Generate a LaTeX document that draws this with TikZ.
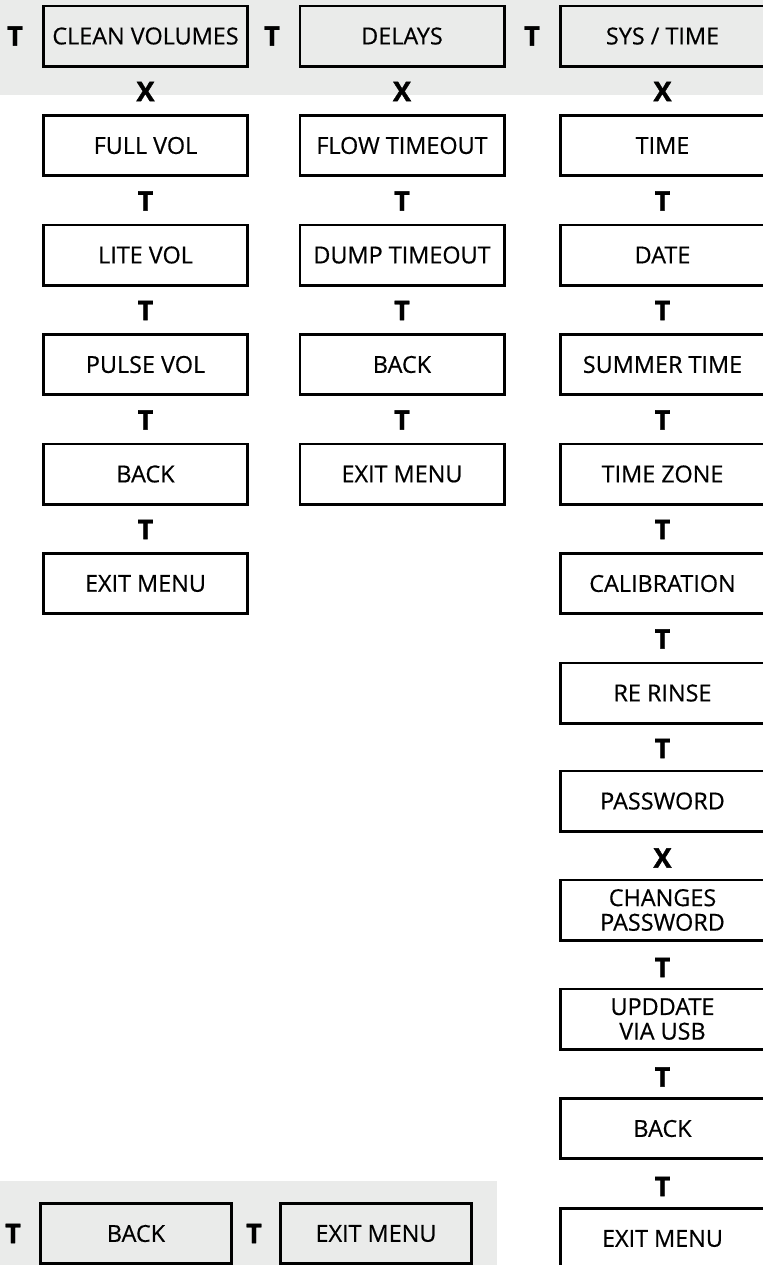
\documentclass[tikz,border=0pt]{standalone}
\usepackage{fontspec}
\setmainfont{Open Sans}
\newfontfamily\boxfont[FakeBold=0.5]{Open Sans}
\newfontfamily\keyfont[FakeBold=1.5]{Open Sans Bold}
\definecolor{bandgray}{RGB}{234,235,234}
\tikzset{
	menubox/.style={draw=black,line width=1.3pt,minimum width=102.2pt,minimum height=30.2pt,inner sep=0pt,align=center,font=\boxfont\fontsize{11.7}{12.3}\selectfont},
	shortbox/.style={menubox,minimum width=95.7pt},
	keylbl/.style={inner sep=0pt,font=\keyfont\fontsize{13.5}{12}\selectfont}
}
\begin{document}
\begin{tikzpicture}[x=0.5pt,y=-0.5pt]
			\clip (0,0) rectangle (763,1265);
			\fill[bandgray] (0,0) rectangle (763,95);
			\fill[bandgray] (0,1181) rectangle (497,1265);
			% top row
			\node[keylbl] (ktop1) at (15,36) {T};
			\node[menubox] (clean) at (145.5,36) {CLEAN VOLUMES};
			\node[keylbl] (ktop2) at (272,36) {T};
			\node[menubox] (delays) at (402,36) {DELAYS};
			\node[keylbl] (ktop3) at (532,36) {T};
			\node[menubox] (systime) at (662.5,36) {SYS / TIME};
			% clean volumes
			\node[keylbl] (ka1) at (145.5,91.5) {X};
			\node[menubox] (fullvol) at (145.5,145.5) {FULL VOL};
			\node[keylbl] (ka2) at (145.5,201) {T};
			\node[menubox] (litevol) at (145.5,255) {LITE VOL};
			\node[keylbl] (ka3) at (145.5,310.5) {T};
			\node[menubox] (pulsevol) at (145.5,364.5) {PULSE VOL};
			\node[keylbl] (ka4) at (145.5,420) {T};
			\node[menubox] (backa) at (145.5,474) {BACK};
			\node[keylbl] (ka5) at (145.5,529.5) {T};
			\node[menubox] (exita) at (145.5,583.5) {EXIT MENU};
			% delays
			\node[keylbl] (kb1) at (402,91.5) {X};
			\node[menubox] (flowto) at (402,145.5) {FLOW TIMEOUT};
			\node[keylbl] (kb2) at (402,201) {T};
			\node[menubox] (dumpto) at (402,255) {DUMP TIMEOUT};
			\node[keylbl] (kb3) at (402,310.5) {T};
			\node[menubox] (backb) at (402,364.5) {BACK};
			\node[keylbl] (kb4) at (402,420) {T};
			\node[menubox] (exitb) at (402,474) {EXIT MENU};
			% sys / time
			\node[keylbl] (kc1) at (662.5,91.5) {X};
			\node[menubox] (time) at (662.5,145.5) {TIME};
			\node[keylbl] (kc2) at (662.5,201) {T};
			\node[menubox] (date) at (662.5,255) {DATE};
			\node[keylbl] (kc3) at (662.5,310.5) {T};
			\node[menubox] (summer) at (662.5,364.5) {SUMMER TIME};
			\node[keylbl] (kc4) at (662.5,420) {T};
			\node[menubox] (zone) at (662.5,474) {TIME ZONE};
			\node[keylbl] (kc5) at (662.5,529.5) {T};
			\node[menubox] (calib) at (662.5,583.5) {CALIBRATION};
			\node[keylbl] (kc6) at (662.5,639) {T};
			\node[menubox] (rerinse) at (662.5,693) {RE RINSE};
			\node[keylbl] (kc7) at (662.5,748.5) {T};
			\node[menubox] (passwd) at (662.5,801) {PASSWORD};
			\node[keylbl] (kc8) at (662.5,858) {X};
			\node[menubox] (chpasswd) at (662.5,910) {CHANGES\\PASSWORD};
			\node[keylbl] (kc9) at (662.5,967.5) {T};
			\node[menubox] (usb) at (662.5,1019) {UPDDATE\\VIA USB};
			\node[keylbl] (kc10) at (662.5,1077) {T};
			\node[menubox] (backc) at (662.5,1128.5) {BACK};
			\node[keylbl] (kc11) at (662.5,1186.5) {T};
			\node[menubox] (exitc) at (662.5,1238.5) {EXIT MENU};
			% bottom row
			\node[keylbl] (kbot1) at (13,1233.5) {T};
			\node[shortbox] (backd) at (136,1233.5) {BACK};
			\node[keylbl] (kbot2) at (254,1233.5) {T};
			\node[shortbox] (exitd) at (376,1233.5) {EXIT MENU};
\end{tikzpicture}
\end{document}
